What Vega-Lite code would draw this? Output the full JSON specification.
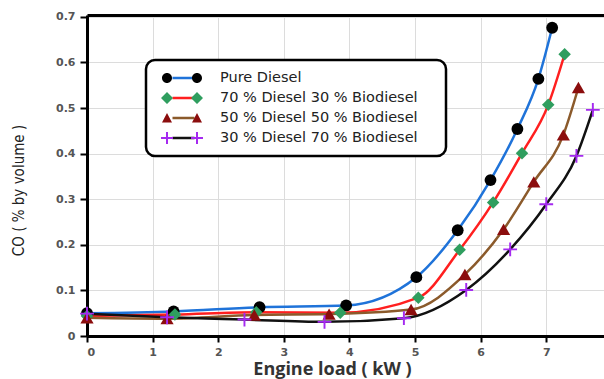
{
  "$schema": "https://vega.github.io/schema/vega-lite/v6.json",
  "width": 517,
  "height": 321,
  "autosize": {"type": "none"},
  "padding": {"left": 87, "top": 15, "right": 0, "bottom": 43},
  "background": "white",
  "config": {"view": {"stroke": null}, "legend": {"strokeWidth": 2.5}},
  "data": {"values": [
    {"series": "Pure Diesel", "load": 0, "co": 0.050},
    {"series": "Pure Diesel", "load": 1.32, "co": 0.054},
    {"series": "Pure Diesel", "load": 2.63, "co": 0.063},
    {"series": "Pure Diesel", "load": 3.95, "co": 0.067},
    {"series": "Pure Diesel", "load": 5.02, "co": 0.129},
    {"series": "Pure Diesel", "load": 5.65, "co": 0.232},
    {"series": "Pure Diesel", "load": 6.15, "co": 0.342},
    {"series": "Pure Diesel", "load": 6.56, "co": 0.454},
    {"series": "Pure Diesel", "load": 6.88, "co": 0.564},
    {"series": "Pure Diesel", "load": 7.09, "co": 0.676},
    {"series": "70 % Diesel 30 % Biodiesel", "load": 0, "co": 0.044},
    {"series": "70 % Diesel 30 % Biodiesel", "load": 1.34, "co": 0.047},
    {"series": "70 % Diesel 30 % Biodiesel", "load": 2.58, "co": 0.052},
    {"series": "70 % Diesel 30 % Biodiesel", "load": 3.86, "co": 0.051},
    {"series": "70 % Diesel 30 % Biodiesel", "load": 5.05, "co": 0.084},
    {"series": "70 % Diesel 30 % Biodiesel", "load": 5.68, "co": 0.189},
    {"series": "70 % Diesel 30 % Biodiesel", "load": 6.19, "co": 0.293},
    {"series": "70 % Diesel 30 % Biodiesel", "load": 6.63, "co": 0.401},
    {"series": "70 % Diesel 30 % Biodiesel", "load": 7.03, "co": 0.507},
    {"series": "70 % Diesel 30 % Biodiesel", "load": 7.28, "co": 0.618},
    {"series": "50 % Diesel 50 % Biodiesel", "load": 0, "co": 0.040},
    {"series": "50 % Diesel 50 % Biodiesel", "load": 1.22, "co": 0.038},
    {"series": "50 % Diesel 50 % Biodiesel", "load": 2.55, "co": 0.046},
    {"series": "50 % Diesel 50 % Biodiesel", "load": 3.69, "co": 0.048},
    {"series": "50 % Diesel 50 % Biodiesel", "load": 4.94, "co": 0.058},
    {"series": "50 % Diesel 50 % Biodiesel", "load": 5.76, "co": 0.135},
    {"series": "50 % Diesel 50 % Biodiesel", "load": 6.35, "co": 0.234},
    {"series": "50 % Diesel 50 % Biodiesel", "load": 6.81, "co": 0.338},
    {"series": "50 % Diesel 50 % Biodiesel", "load": 7.26, "co": 0.441},
    {"series": "50 % Diesel 50 % Biodiesel", "load": 7.49, "co": 0.545},
    {"series": "30 % Diesel 70 % Biodiesel", "load": 0, "co": 0.049},
    {"series": "30 % Diesel 70 % Biodiesel", "load": 1.22, "co": 0.041},
    {"series": "30 % Diesel 70 % Biodiesel", "load": 2.40, "co": 0.036},
    {"series": "30 % Diesel 70 % Biodiesel", "load": 3.62, "co": 0.031},
    {"series": "30 % Diesel 70 % Biodiesel", "load": 4.83, "co": 0.039},
    {"series": "30 % Diesel 70 % Biodiesel", "load": 5.78, "co": 0.101},
    {"series": "30 % Diesel 70 % Biodiesel", "load": 6.45, "co": 0.190},
    {"series": "30 % Diesel 70 % Biodiesel", "load": 7.00, "co": 0.289},
    {"series": "30 % Diesel 70 % Biodiesel", "load": 7.46, "co": 0.395},
    {"series": "30 % Diesel 70 % Biodiesel", "load": 7.71, "co": 0.496}
  ]},
  "resolve": {"scale": {"fill": "independent", "shape": "independent", "size": "independent"}},
  "layer": [
    {
      "mark": {"type": "line", "interpolate": "monotone", "strokeWidth": 2.5},
      "encoding": {
        "x": {
          "field": "load", "type": "quantitative",
          "scale": {"domain": [0, 7.88], "nice": false, "zero": false},
          "axis": {
            "orient": "bottom", "values": [0, 1, 2, 3, 4, 5, 6, 7], "format": "d",
            "grid": true, "gridColor": "#dcdcdc", "gridWidth": 1,
            "domainColor": "#000", "domainWidth": 3,
            "tickColor": "#000", "tickWidth": 2, "tickSize": 6,
            "labelFont": "DejaVu Sans", "labelFontWeight": "bold", "labelFontSize": 11,
            "labelColor": "#555", "labelPadding": 4,
            "title": "Engine load ( kW )", "titleFont": "Open Sans", "titleFontSize": 18,
            "titleFontWeight": "bold", "titleColor": "#333",
            "titleX": 245, "titleY": 38, "titleBaseline": "alphabetic"
          }
        },
        "y": {
          "field": "co", "type": "quantitative",
          "scale": {"domain": [0, 0.704], "nice": false},
          "axis": {
            "values": [0, 0.1, 0.2, 0.3, 0.4, 0.5, 0.6, 0.7],
            "labelExpr": "datum.value == 0 ? '0' : format(datum.value, '.1f')",
            "grid": true, "gridColor": "#dcdcdc", "gridWidth": 1,
            "domainColor": "#000", "domainWidth": 3,
            "tickColor": "#000", "tickWidth": 2, "tickSize": 7,
            "labelFont": "DejaVu Sans", "labelFontWeight": "bold", "labelFontSize": 11,
            "labelColor": "#555", "labelPadding": 5,
            "title": "CO ( % by volume )", "titleFont": "Liberation Sans Narrow, DejaVu Sans Condensed, sans-serif",
            "titleFontSize": 15, "titleFontWeight": "normal", "titleColor": "#222",
            "titleX": -69, "titleY": 175, "titleAngle": -90, "titleBaseline": "middle", "titleAlign": "center"
          }
        },
        "color": {
          "field": "series", "type": "nominal",
          "sort": ["Pure Diesel", "70 % Diesel 30 % Biodiesel", "50 % Diesel 50 % Biodiesel", "30 % Diesel 70 % Biodiesel"],
          "scale": {"range": ["#1f73d9", "#ff1f1f", "#8b5a2b", "#111111"]},
          "legend": {
            "orient": "none", "legendX": 59, "legendY": 45, "title": null,
            "padding": 8, "symbolSize": 1600, "clipHeight": 20, "rowPadding": 0,
            "symbolOffset": 8, "labelOffset": 18,
            "symbolType": "M-0.55,0H0.55", "symbolStrokeWidth": 2.5,
            "labelFont": "DejaVu Sans", "labelFontSize": 14.5, "labelColor": "transparent",
            "labelExpr": "datum.label + 'xx'", "labelLimit": 400,
            "strokeColor": "#000", "fillColor": "#fff", "cornerRadius": 9
          }
        }
      }
    },
    {
      "mark": {"type": "point", "filled": true, "opacity": 1, "strokeWidth": 0},
      "encoding": {
        "x": {
          "field": "load", "type": "quantitative",
          "axis": {"orient": "top", "labels": false, "ticks": false, "grid": false,
                   "domainColor": "#000", "domainWidth": 3, "title": null}
        },
        "y": {"field": "co", "type": "quantitative"},
        "fill": {
          "field": "series", "type": "nominal",
          "sort": ["Pure Diesel", "70 % Diesel 30 % Biodiesel", "50 % Diesel 50 % Biodiesel", "30 % Diesel 70 % Biodiesel"],
          "scale": {"range": ["#000000", "#2f9e5f", "#8b0d0d", "#a52af0"]},
          "legend": null
        },
        "shape": {
          "field": "series", "type": "nominal",
          "sort": ["Pure Diesel", "70 % Diesel 30 % Biodiesel", "50 % Diesel 50 % Biodiesel", "30 % Diesel 70 % Biodiesel"],
          "scale": {"range": ["circle", "diamond", "triangle-up", "M-0.14,-1H0.14V-0.14H1V0.14H0.14V1H-0.14V0.14H-1V-0.14H-0.14Z"]},
          "legend": null
        },
        "size": {
          "field": "series", "type": "ordinal",
          "sort": ["Pure Diesel", "70 % Diesel 30 % Biodiesel", "50 % Diesel 50 % Biodiesel", "30 % Diesel 70 % Biodiesel"],
          "scale": {"range": [140, 190, 150, 150]},
          "legend": null
        }
      }
    },
    {
      "transform": [{"filter": "false"}],
      "mark": {"type": "point", "filled": true, "strokeWidth": 0},
      "encoding": {
        "fill": {
          "field": "series", "type": "nominal",
          "scale": {
            "domain": ["Pure Diesel", "70 % Diesel 30 % Biodiesel", "50 % Diesel 50 % Biodiesel", "30 % Diesel 70 % Biodiesel"],
            "range": ["#000000", "#2f9e5f", "#8b0d0d", "#a52af0"]
          },
          "legend": {
            "orient": "none", "legendX": 59, "legendY": 45, "title": null,
            "padding": 8, "symbolSize": 1600, "clipHeight": 20, "rowPadding": 0,
            "symbolOffset": 8, "labelOffset": 18, "symbolStrokeWidth": 0, "symbolOpacity": 1,
            "labelFont": "DejaVu Sans", "labelFontSize": 14.5, "labelColor": "#222", "labelLimit": 400
          }
        },
        "shape": {
          "field": "series", "type": "nominal",
          "scale": {
            "domain": ["Pure Diesel", "70 % Diesel 30 % Biodiesel", "50 % Diesel 50 % Biodiesel", "30 % Diesel 70 % Biodiesel"],
            "range": [
              "M-1,0A0.25,0.25 0 1,0 -0.5,0A0.25,0.25 0 1,0 -1,0ZM0.5,0A0.25,0.25 0 1,0 1,0A0.25,0.25 0 1,0 0.5,0Z",
              "M-1.05,0L-0.75,-0.3L-0.45,0L-0.75,0.3ZM0.45,0L0.75,-0.3L1.05,0L0.75,0.3Z",
              "M-1,0.22L-0.75,-0.25L-0.5,0.22ZM0.5,0.22L0.75,-0.25L1,0.22Z",
              "M-0.8,-0.3H-0.7V-0.05H-0.45V0.05H-0.7V0.3H-0.8V0.05H-1.05V-0.05H-0.8ZM0.7,-0.3H0.8V-0.05H1.05V0.05H0.8V0.3H0.7V0.05H0.45V-0.05H0.7Z"
            ]
          },
          "legend": {
            "orient": "none", "legendX": 59, "legendY": 45, "title": null,
            "padding": 8, "symbolSize": 1600, "clipHeight": 20, "rowPadding": 0,
            "symbolOffset": 8, "labelOffset": 18, "symbolStrokeWidth": 0, "symbolOpacity": 1,
            "labelFont": "DejaVu Sans", "labelFontSize": 14.5, "labelColor": "#222", "labelLimit": 400
          }
        }
      }
    }
  ]
}
